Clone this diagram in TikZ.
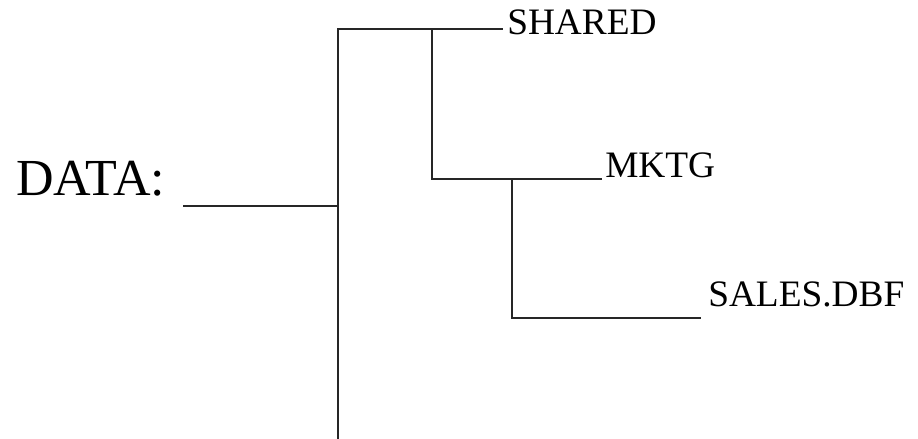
\documentclass[tikz,border=0pt]{standalone}
\usepackage{fontspec}
\setmainfont{Liberation Serif}
\tikzset{
	branch/.style={draw=black!85, line width=1.1pt},
	leaf/.style={anchor=base west, inner sep=0pt, font=\fontsize{28}{30}\selectfont},
	rootlbl/.style={anchor=base west, inner sep=0pt, font=\fontsize{39}{42}\selectfont}
}
\begin{document}
\begin{tikzpicture}[x=0.75pt,y=0.75pt,yscale=-1,xscale=1]
	\useasboundingbox (0,0) rectangle (918,439);

	% Text Node
	\node [rootlbl] (data) at (16,195) {DATA:};
	% Text Node
	\node [leaf] (shared) at (507,35) {SHARED};
	% Text Node
	\node [leaf] (mktg) at (605,177) {MKTG};
	% Text Node
	\node [leaf] (sales) at (708,306) {SALES.DBF};

	% junctions
	\coordinate (dataend) at (183,206);
	\coordinate (rootmid) at (338,206);
	\coordinate (roottop) at (338,29);
	\coordinate (rootbot) at (338,439);
	\coordinate (shj) at (432,29);
	\coordinate (shend) at (503,29);
	\coordinate (mkj) at (432,179);
	\coordinate (mkj2) at (512,179);
	\coordinate (mkend) at (602,179);
	\coordinate (saj) at (512,318);
	\coordinate (saend) at (701,318);

	%Straight Lines
	\draw [branch] (dataend) -- (rootmid);
	\draw [branch] (rootbot) -- (roottop) -- (shend);
	\draw [branch] (shj) -- (mkj) -- (mkend);
	\draw [branch] (mkj2) -- (saj) -- (saend);

\end{tikzpicture}
\end{document}
